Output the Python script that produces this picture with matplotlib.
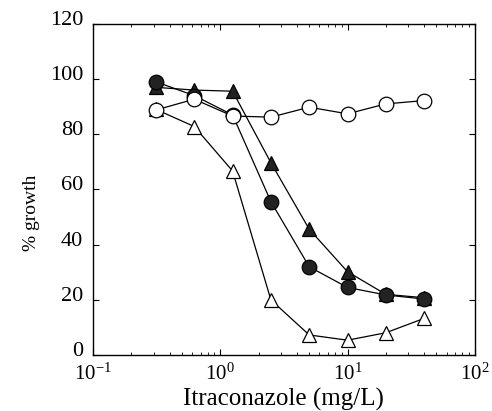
import matplotlib as mpl
mpl.use('Agg')
import matplotlib.pyplot as plt
from matplotlib.transforms import ScaledTranslation

conc = [0.3125, 0.625, 1.25, 2.5, 5, 10, 20, 40]
open_circle = [88.8, 92.7, 86.6, 86.2, 89.8, 87.4, 91.0, 92.2]
filled_circle = [99.0, 94.0, 87.0, 55.6, 32.0, 24.5, 21.8, 20.3]
filled_tri = [97.0, 96.0, 95.6, 69.7, 45.6, 30.2, 22.0, 20.8]
open_tri = [89.0, 82.8, 66.7, 20.0, 7.3, 5.4, 8.1, 13.3]

plt.rcParams['font.family'] = ['Liberation Serif', 'DejaVu Serif']

fig = plt.figure(figsize=(4.92, 4.11), dpi=100)
ax = fig.add_axes([0.189, 0.136, 0.776, 0.806])

ms = 10.5
ax.plot(conc, open_tri, '-^', color='black', lw=0.9, ms=ms, mfc='white', mec='black', mew=0.9)
ax.plot(conc, filled_tri, '-^', color='black', lw=0.9, ms=ms, mfc='#222222', mec='black', mew=0.9)
ax.plot(conc, filled_circle, '-o', color='black', lw=0.9, ms=ms, mfc='#222222', mec='black', mew=0.9)
ax.plot(conc, open_circle, '-o', color='black', lw=0.9, ms=ms, mfc='white', mec='black', mew=0.9)

ax.set_xscale('log')
ax.set_xlim(0.1, 100)
ax.set_ylim(0, 120)
ax.set_yticks(range(0, 121, 20))
ax.tick_params(which='both', direction='in', top=True, right=True)
ax.tick_params(which='major', length=4)
ax.tick_params(which='minor', length=2)
ax.tick_params(axis='x', pad=6, labelsize=15)
ax.tick_params(axis='y', pad=7, labelsize=16)
for s in ax.spines.values():
    s.set_linewidth(1.0)

# y tick labels sit a little above their ticks in the original
shift = ScaledTranslation(0, 6 / 100, fig.dpi_scale_trans)
for lab in ax.get_yticklabels():
    lab.set_transform(lab.get_transform() + shift)

ax.set_xlabel('Itraconazole (mg/L)', fontsize=18, labelpad=2)
ax.set_ylabel('% growth', fontsize=14)
ax.yaxis.set_label_coords(-0.14, 0.43)

fig.savefig('out.png', dpi=100)
